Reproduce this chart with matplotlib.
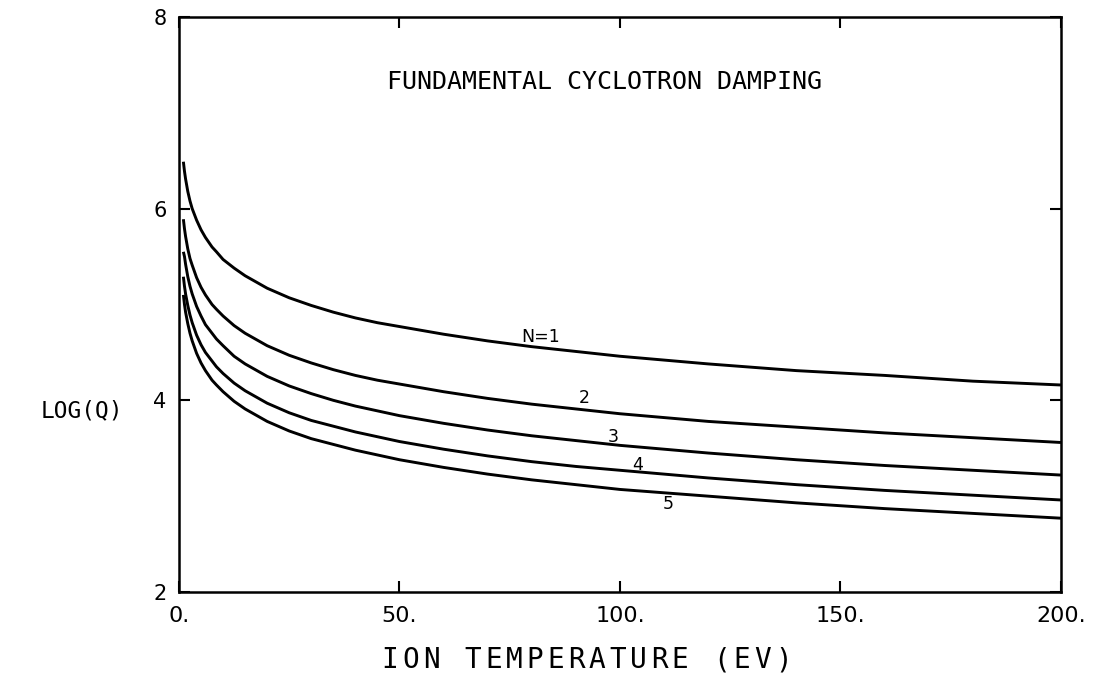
import numpy as np
import matplotlib
matplotlib.use('Agg')
import matplotlib.pyplot as plt

# === ДАННЫЕ ===
T_ev = [1, 1.25, 1.5, 2, 2.5, 3, 4, 5, 6, 7.5, 8.5, 10, 12.5, 15, 20, 25, 30, 35, 40, 45,
        50, 60, 70, 80, 90, 100, 120, 140, 160, 180, 200]
logq_n1 = [6.49, 6.39, 6.31, 6.18, 6.08, 6.00, 5.88, 5.78, 5.70, 5.60, 5.55, 5.47, 5.38, 5.30, 5.17, 5.07,
           4.99, 4.92, 4.86, 4.81, 4.77, 4.69, 4.62, 4.56, 4.51, 4.46, 4.38, 4.31, 4.26, 4.20, 4.16]
logq_n2 = [5.89, 5.79, 5.71, 5.58, 5.48, 5.41, 5.28, 5.18, 5.10, 5.00, 4.95, 4.88, 4.78, 4.70, 4.57, 4.47,
           4.39, 4.32, 4.26, 4.21, 4.17, 4.09, 4.02, 3.96, 3.91, 3.86, 3.78, 3.72, 3.66, 3.61, 3.56]
logq_n3 = [5.55, 5.50, 5.42, 5.29, 5.19, 5.11, 4.98, 4.88, 4.79, 4.70, 4.64, 4.57, 4.46, 4.38, 4.25, 4.15,
           4.07, 4.00, 3.94, 3.89, 3.84, 3.76, 3.69, 3.63, 3.58, 3.53, 3.45, 3.38, 3.32, 3.27, 3.22]
logq_n4 = [5.29, 5.19, 5.11, 4.99, 4.89, 4.81, 4.68, 4.58, 4.50, 4.41, 4.35, 4.28, 4.18, 4.10, 3.97, 3.87,
           3.79, 3.73, 3.67, 3.62, 3.57, 3.49, 3.42, 3.36, 3.31, 3.27, 3.19, 3.12, 3.06, 3.01, 2.96]
logq_n5 = [5.10, 5.00, 4.92, 4.80, 4.70, 4.62, 4.49, 4.39, 4.31, 4.21, 4.16, 4.09, 3.99, 3.91, 3.78, 3.68,
           3.60, 3.54, 3.48, 3.43, 3.38, 3.30, 3.23, 3.17, 3.12, 3.07, 3.00, 2.93, 2.87, 2.82, 2.77]

curves = [logq_n1, logq_n2, logq_n3, logq_n4, logq_n5]
curve_labels = ['N=1', '2', '3', '4', '5']
label_x = [82, 92, 98.5, 104, 111]
label_y = [4.66, 4.02, 3.62, 3.32, 2.92]

x_ticks = [0, 50, 100, 150, 200]
x_ticklabels = ['0.', '50.', '100.', '150.', '200.']
y_ticks = [2, 4, 6, 8]
y_ticklabels = ['2', '4', '6', '8']

W, H = 1100, 673


def spaced_text(x0, yc, s, adv, size):
    # плоттерный шрифт: фиксированный шаг между буквами
    for i, ch in enumerate(s):
        if ch == ' ':
            continue
        fig.text((x0 + i * adv + 7) / W, 1 - yc / H, ch, fontsize=size,
                 family='DejaVu Sans Mono', ha='center', va='center')


# === ГРАФИК ===
fig = plt.figure(figsize=(11, 6.73), dpi=100)
ax = fig.add_axes([0.1627, 0.1204, 0.8018, 0.8543])

for ys in curves:
    ax.plot(T_ev, ys, color='black', lw=2.1, solid_capstyle='butt')

for lab, lx, ly in zip(curve_labels, label_x, label_y):
    ax.text(lx, ly, lab, fontsize=12.5, ha='center', va='center', family='DejaVu Sans')

ax.set_xlim(0, 200)
ax.set_ylim(2, 8)
ax.set_xticks(x_ticks)
ax.set_xticklabels(x_ticklabels, fontsize=16)
ax.set_yticks(y_ticks)
ax.set_yticklabels(y_ticklabels, fontsize=15)
ax.tick_params(direction='in', length=8, width=1.5, top=True, right=True, pad=9)
ax.tick_params(axis='x', pad=10)
for s in ax.spines.values():
    s.set_linewidth(1.8)

ax.text(0.482, 7.32, 'FUNDAMENTAL CYCLOTRON DAMPING', transform=ax.get_yaxis_transform(),
        fontsize=18, family='DejaVu Sans Mono', ha='center', va='center')

spaced_text(383, 660, 'ION TEMPERATURE (EV)', 20.7, 20)
fig.text(82/W, 1 - 411/H, 'LOG(Q)', fontsize=16.5,
         family='DejaVu Sans Mono', ha='center', va='center')

plt.savefig('out.png', dpi=100)
